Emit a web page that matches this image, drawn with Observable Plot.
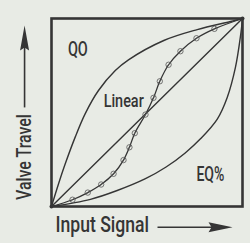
<!DOCTYPE html>
<html><head><meta charset="utf-8">
<script src="https://cdn.jsdelivr.net/npm/d3@7"></script>
<script src="https://cdn.jsdelivr.net/npm/@observablehq/plot@0.6"></script>
<style>
html,body{margin:0;padding:0;background:#e8ebe5;overflow:hidden;}
</style></head><body><div id="chart"></div>
<script>
// Characteristic curves: input signal (0..1) vs valve travel (0..1)
const linearX = [0, 1];
const linearY = [0, 1];
const qoX = [0, 0.037, 0.072, 0.124, 0.176, 0.246, 0.334, 0.403, 0.588, 0.763, 0.937, 1];
const qoY = [0, 0.121, 0.227, 0.369, 0.493, 0.617, 0.723, 0.780, 0.883, 0.941, 0.984, 1];
const eqX = [0, 0.204, 0.344, 0.492, 0.600, 0.700, 0.780, 0.868, 0.920, 0.963, 0.990, 1];
const eqY = [0, 0.038, 0.085, 0.148, 0.210, 0.285, 0.360, 0.465, 0.580, 0.740, 0.910, 1];
const modX = [0, 0.110, 0.190, 0.260, 0.325, 0.377, 0.408, 0.436, 0.492, 0.534, 0.567, 0.613, 0.675, 0.759, 0.853, 1];
const modY = [0, 0.036, 0.074, 0.117, 0.174, 0.247, 0.315, 0.390, 0.489, 0.578, 0.666, 0.754, 0.826, 0.895, 0.945, 1];
const curveLabels = ["QO", "Linear", "EQ%"];
const xTitle = "Input Signal";
const yTitle = "Valve Travel";

const toRows = (xs, ys) => xs.map((x, i) => ({x, y: ys[i]}));
const linear = toRows(linearX, linearY);
const qo = toRows(qoX, qoY);
const eq = toRows(eqX, eqY);
const mod = toRows(modX, modY);
const markers = mod.slice(1, -1);

const ink = "#353535";
const font = "Roboto,'Noto Sans',sans-serif";

const slashedCircle = {
  draw(ctx, size) {
    const r = Math.sqrt(size / Math.PI);
    ctx.moveTo(r, 0);
    ctx.arc(0, 0, r, 0, 2 * Math.PI);
    ctx.moveTo(-r * 0.7, r * 0.7);
    ctx.lineTo(r * 0.7, -r * 0.7);
  }
};
const headRight = {
  draw(ctx) {
    ctx.moveTo(12, 0); ctx.lineTo(-12, -5); ctx.lineTo(-9, 0); ctx.lineTo(-12, 5); ctx.closePath();
  }
};
const headUp = {
  draw(ctx) {
    ctx.moveTo(0, -12.5); ctx.lineTo(-4.5, 12.5); ctx.lineTo(0, 9.5); ctx.lineTo(4.5, 12.5); ctx.closePath();
  }
};

const chart = Plot.plot({
  width: 250, height: 243,
  marginLeft: 51, marginRight: 8, marginTop: 18, marginBottom: 37,
  x: {domain: [0, 1], axis: null},
  y: {domain: [0, 1], axis: null},
  style: {background: "transparent", fontFamily: font, color: ink},
  marks: [
    Plot.line(linear, {x: "x", y: "y", stroke: ink, strokeWidth: 1.4}),
    Plot.line(qo, {x: "x", y: "y", stroke: ink, strokeWidth: 1.4, curve: "catmull-rom"}),
    Plot.line(eq, {x: "x", y: "y", stroke: ink, strokeWidth: 1.4, curve: "catmull-rom"}),
    Plot.line(mod, {x: "x", y: "y", stroke: ink, strokeWidth: 1.3, curve: "catmull-rom"}),
    Plot.dot(markers, {x: "x", y: "y", r: 2.7, symbol: slashedCircle, stroke: "#555", strokeWidth: 0.8, fill: "none"}),
    Plot.frame({stroke: ink, strokeWidth: 2.6}),
    Plot.dot([0, 1], {x: d => d, y: d => d, r: 2, fill: ink, stroke: "none"}),
    Plot.text([curveLabels[0]], {x: 0.138, y: 0.834, text: d => d, fontSize: 21, fontWeight: 500, fill: ink}),
    Plot.text([curveLabels[1]], {x: 0.378, y: 0.562, text: d => d, fontSize: 19, fontWeight: 500, fill: ink}),
    Plot.text([curveLabels[2]], {x: 0.832, y: 0.171, text: d => d, fontSize: 21, fontWeight: 500, fill: ink}),
    Plot.text([xTitle], {x: 0.021, y: -0.097, text: d => d, textAnchor: "start", fontSize: 22, fontWeight: 500, fill: ink}),
    Plot.text([yTitle], {x: -0.141, y: 0.263, text: d => d, rotate: -90, fontSize: 21, fontWeight: 500, fill: ink}),
    Plot.link([0], {x1: 0.555, x2: 0.9, y1: -0.110, y2: -0.110, stroke: ink, strokeWidth: 1.6}),
    Plot.dot([0], {x: 0.885, y: -0.110, symbol: headRight, fill: ink, stroke: "none"}),
    Plot.link([0], {x1: -0.141, x2: -0.141, y1: 0.527, y2: 0.88, stroke: ink, strokeWidth: 1.6}),
    Plot.dot([0], {x: -0.141, y: 0.896, symbol: headUp, fill: ink, stroke: "none"})
  ]
});
// condensed lettering, as in the original figure
const squeeze = {"QO": 0.69, "Linear": 0.76, "EQ%": 0.67, "Input Signal": 0.8, "Valve Travel": 0.76};
d3.select(chart).selectAll("text").each(function() {
  const t = this.getAttribute("transform") || "";
  const s = squeeze[this.textContent.trim()] || 0.8;
  this.setAttribute("transform", t + ` scale(${s},1)`);
});
document.getElementById("chart").append(chart);
</script>
</body></html>
